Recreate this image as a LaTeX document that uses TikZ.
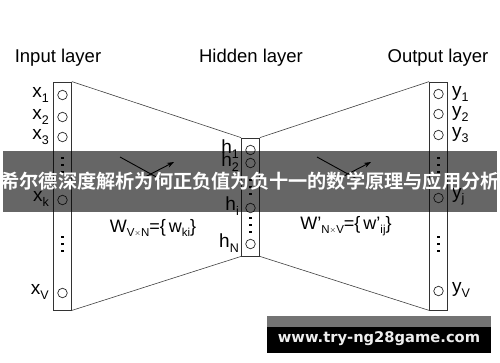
\documentclass[tikz,border=0pt]{standalone}
\usepackage{fontspec}
\setmainfont{Liberation Sans}
\newfontfamily\cjkfont{Noto Sans CJK SC}[BoldFont={Noto Sans CJK SC Bold}]
\newfontfamily\wmfont{DejaVu Sans}
\usetikzlibrary{arrows.meta}
\newcommand\lbl[2]{#1\raisebox{-4.5pt}{\fontsize{12.5}{12.5}\selectfont #2}}
\newcommand\wsub[1]{\raisebox{-4pt}{\fontsize{11.5}{11.5}\selectfont #1}}
\newcommand\sq{{\char"0027}}
\tikzset{
  layerbox/.style={draw=black!80, line width=0.8pt, inner sep=0pt},
  neuron/.style={circle, draw=black!85, line width=0.7pt, minimum size=9.5pt, inner sep=0pt},
  nlabel/.style={inner sep=0pt, font=\fontsize{19}{19}\selectfont},
  title/.style={inner sep=0pt, font=\fontsize{18.5}{18.5}\selectfont},
  wlabel/.style={inner sep=0pt, font=\fontsize{18}{18}\selectfont},
  link/.style={draw=black!75, line width=0.6pt},
  dotmark/.style={fill=black, minimum size=2.8pt, inner sep=0pt, rectangle},
}
\begin{document}
\begin{tikzpicture}[x=1pt,y=-1pt]
\useasboundingbox (0,0) rectangle (500,362);
% titles
\node[title] (tin) at (58,58) {Input layer};
\node[title] (thid) at (251,58) {Hidden layer};
\node[title] (tout) at (438,58) {Output layer};
% boxes
\node[layerbox, minimum width=18pt, minimum height=228pt] (inbox) at (62.5,196) {};
\node[layerbox, minimum width=18pt, minimum height=118pt] (hidbox) at (250.5,197) {};
\node[layerbox, minimum width=18pt, minimum height=228pt] (outbox) at (438.5,196) {};
% connecting lines
\draw[link] (inbox.north east) -- (hidbox.north west);
\draw[link] (inbox.south east) -- (hidbox.south west);
\draw[link] (hidbox.north east) -- (outbox.north west);
\draw[link] (hidbox.south east) -- (outbox.south west);
% input neurons
\foreach \n/\y in {x1/95, x2/117, x3/137, xk/200, xv/293}
  \node[neuron] (\n) at (62.5,\y) {};
\node[dotmark] (di1) at (62.5,158) {};
\node[dotmark] (di2) at (62.5,165) {};
\node[dotmark] (di3) at (62.5,172) {};
\node[dotmark] (di4) at (62.5,237) {};
\node[dotmark] (di5) at (62.5,244) {};
\node[dotmark] (di6) at (62.5,251) {};
\node[nlabel, anchor=east] (lx1) at (49,95) {\lbl{x}{1}};
\node[nlabel, anchor=east] (lx2) at (49,117) {\lbl{x}{2}};
\node[nlabel, anchor=east] (lx3) at (49,137) {\lbl{x}{3}};
\node[nlabel, anchor=east] (lxk) at (49,199) {\lbl{x}{k}};
\node[nlabel, anchor=east] (lxv) at (49,292) {\lbl{x}{V}};
% hidden neurons
\foreach \n/\y in {h1/150, h2/163, hi/208, hN/244}
  \node[neuron] (\n) at (250.5,\y) {};
\node[dotmark] (dh1) at (250.5,180) {};
\node[dotmark] (dh2) at (250.5,187) {};
\node[dotmark] (dh3) at (250.5,194) {};
\node[dotmark] (dh4) at (250.5,218) {};
\node[dotmark] (dh5) at (250.5,225) {};
\node[dotmark] (dh6) at (250.5,232) {};
\node[nlabel, anchor=east] (lh1) at (239,149) {\lbl{h}{1}};
\node[nlabel, anchor=east] (lh2) at (239,162) {\lbl{h}{2}};
\node[nlabel, anchor=east] (lhi) at (239,206) {\lbl{h}{i}};
\node[nlabel, anchor=east] (lhN) at (239,243) {\lbl{h}{N}};
% output neurons
\foreach \n/\y in {y1/94, y2/114, y3/135, yj/198, yv/291}
  \node[neuron] (\n) at (438.5,\y) {};
\node[dotmark] (do1) at (438.5,158) {};
\node[dotmark] (do2) at (438.5,165) {};
\node[dotmark] (do3) at (438.5,172) {};
\node[dotmark] (do4) at (438.5,237) {};
\node[dotmark] (do5) at (438.5,244) {};
\node[dotmark] (do6) at (438.5,251) {};
\node[nlabel, anchor=west] (ly1) at (452,94) {\lbl{y}{1}};
\node[nlabel, anchor=west] (ly2) at (452,114) {\lbl{y}{2}};
\node[nlabel, anchor=west] (ly3) at (452,135) {\lbl{y}{3}};
\node[nlabel, anchor=west] (lyj) at (452,197) {\lbl{y}{j}};
\node[nlabel, anchor=west] (lyv) at (452,290) {\lbl{y}{V}};
% weight arrows
\coordinate (a1s) at (120,157); \coordinate (a1e) at (160,179);
\coordinate (b1s) at (143,178); \coordinate (b1e) at (174,162);
\draw[line width=0.9pt] (a1s) -- (a1e);
\draw[line width=0.9pt, -{Stealth[length=7pt,width=5pt]}] (b1s) -- (b1e);
\coordinate (a2s) at (317,157); \coordinate (a2e) at (357,179);
\coordinate (b2s) at (340,178); \coordinate (b2e) at (371,162);
\draw[line width=0.9pt] (a2s) -- (a2e);
\draw[line width=0.9pt, -{Stealth[length=7pt,width=5pt]}] (b2s) -- (b2e);
% weight labels
\node[wlabel, anchor=base] (w1) at (153,232) {W\wsub{V\raisebox{1pt}{\fontsize{8}{8}\selectfont$\times$}N}=\{\,w\wsub{ki}\}};
\node[wlabel, anchor=base] (w2) at (346,229) {W\sq\wsub{N\raisebox{1pt}{\fontsize{8}{8}\selectfont$\times$}V}=\{\,w\sq\wsub{ij}\}};
% banner
\fill[black, opacity=0.6] (3,151) rectangle (497,212);
\node[inner sep=0pt, text=white, font=\cjkfont\bfseries\fontsize{19.2}{19.2}\selectfont] (banner) at (250,181) {希尔德深度解析为何正负值为负十一的数学原理与应用分析};
% watermark
\fill[black!55] (267,316) rectangle (491,327);
\fill[black] (267,327) rectangle (491,353);
\node[inner sep=0pt, text=white!93!black, font=\wmfont\bfseries\fontsize{14.7}{14.7}\selectfont] (wm) at (379,339) {www.try-ng28game.com};
\end{tikzpicture}
\end{document}
